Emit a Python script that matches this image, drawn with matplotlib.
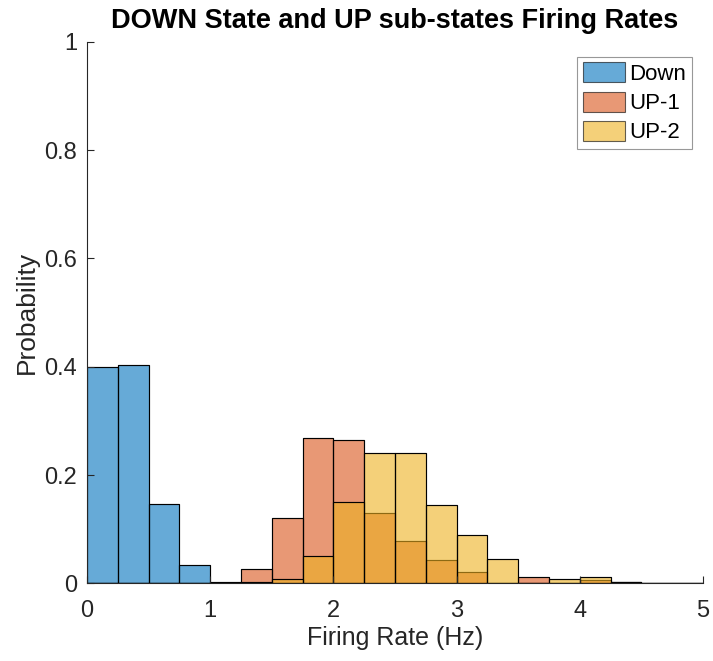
import matplotlib
matplotlib.use("Agg")
import matplotlib.pyplot as plt
import numpy as np

# bin edges (Hz) and per-bin probabilities
edges = np.arange(0, 5.001, 0.25)
down = [0.400, 0.403, 0.146, 0.033, 0.002, 0.001, 0, 0, 0, 0,
        0, 0, 0, 0, 0, 0, 0, 0, 0, 0]
up1 = [0, 0, 0, 0, 0, 0.0265, 0.121, 0.269, 0.265, 0.130,
       0.079, 0.044, 0.0215, 0, 0.0117, 0.001, 0.006, 0.002, 0, 0]
up2 = [0, 0, 0, 0, 0, 0.002, 0.0074, 0.050, 0.150, 0.240,
       0.240, 0.144, 0.090, 0.045, 0.001, 0.0074, 0.011, 0.002, 0, 0]
labels = ["Down", "UP-1", "UP-2"]
colors = ["#0072BD", "#D95319", "#EDB120"]

plt.rcParams["font.family"] = ["Liberation Sans", "DejaVu Sans"]

fig = plt.figure(figsize=(7.13, 6.61), dpi=100)
ax = fig.add_axes([0.122, 0.1175, 0.864, 0.8193])

for vals, lab, col in zip([down, up1, up2], labels, colors):
    ax.bar(edges[:-1], vals, width=0.25, align="edge", color=col, alpha=0.6,
           edgecolor="black", linewidth=0.8, label=lab)
    # edges drawn opaque on top of the translucent fill
    ax.bar(edges[:-1], vals, width=0.25, align="edge", fill=False,
           edgecolor="black", linewidth=0.8)

ax.set_xlim(0, 5)
ax.set_ylim(0, 1)
ax.set_xticks([0, 1, 2, 3, 4, 5])
ax.set_yticks([0, 0.2, 0.4, 0.6, 0.8, 1])
ax.set_yticklabels(["0", "0.2", "0.4", "0.6", "0.8", "1"])
for s in ["top", "right"]:
    ax.spines[s].set_visible(False)
for s in ["left", "bottom"]:
    ax.spines[s].set_color("#262626")
    ax.spines[s].set_linewidth(0.8)
ax.tick_params(direction="in", length=5, width=0.8, colors="#262626",
               labelsize=17)
ax.tick_params(axis="x", pad=12)
ax.tick_params(axis="y", pad=7)

ax.set_title("DOWN State and UP sub-states Firing Rates", fontsize=19.5,
             fontweight="bold", pad=10)
ax.set_xlabel("Firing Rate (Hz)", fontsize=18, color="#262626", labelpad=3)
ax.set_ylabel("Probability", fontsize=19, color="#262626", labelpad=4)

leg = ax.legend(loc="upper right", fontsize=16, frameon=True, fancybox=False,
                edgecolor="#7f7f7f", handlelength=1.9, handleheight=1.0,
                handletextpad=0.2, borderpad=0.25, labelspacing=0.3,
                borderaxespad=0, bbox_to_anchor=(0.9815, 0.972))
leg.get_frame().set_linewidth(0.8)

fig.savefig("out.png", dpi=100, facecolor="white")
